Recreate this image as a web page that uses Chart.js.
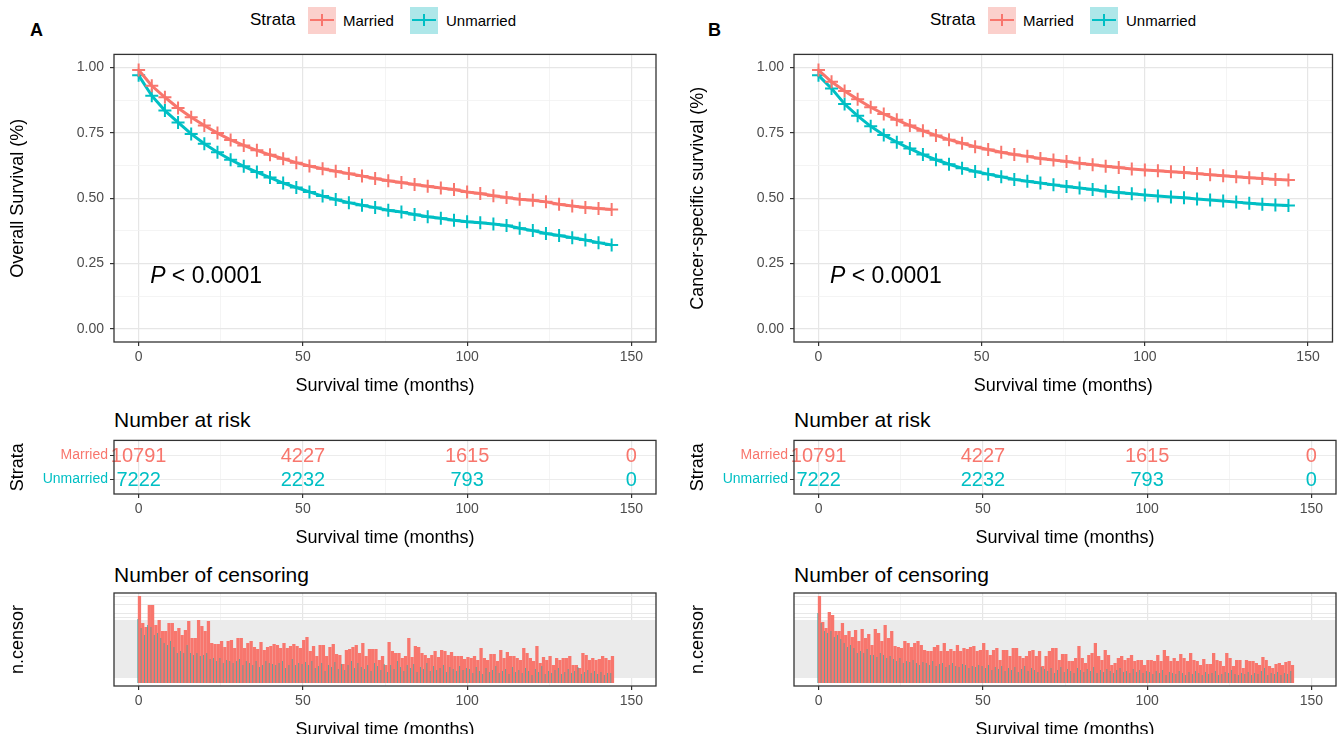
<!DOCTYPE html>
<html>
<head>
<meta charset="utf-8">
<script src="https://cdn.jsdelivr.net/npm/chart.js@4.4.1/dist/chart.umd.min.js"></script>
<style>
  body { margin: 0; width: 1341px; height: 734px; position: relative; overflow: hidden; background: #fff;
         font-family: "Liberation Sans", Arial, sans-serif; }
  canvas { position: absolute; }
  .t { position: absolute; white-space: nowrap; line-height: 1; color: #000; }
  .key { position: absolute; width: 28px; height: 27px; }
  .key i { position: absolute; display: block; }
  .key .h { left: 2px; right: 2px; top: 12px; height: 2px; }
  .key .v { left: 13px; top: 7px; width: 2px; height: 12px; }
</style>
</head>
<body>

<div class="t" style="left:30px;top:21px;font-size:18px;font-weight:bold">A</div>
<div class="t" style="left:250px;top:11px;font-size:17px">Strata</div>
<div class="key" style="left:308px;top:7px;background:#fbd0cc"><i class="h" style="background:#F8766D"></i><i class="v" style="background:#F8766D"></i></div>
<div class="t" style="left:343px;top:13px;font-size:15px">Married</div>
<div class="key" style="left:410px;top:7px;background:#aee7e9"><i class="h" style="background:#00BFC4"></i><i class="v" style="background:#00BFC4"></i></div>
<div class="t" style="left:446px;top:13px;font-size:15px">Unmarried</div>
<div class="t" style="left:114px;top:409px;font-size:21px">Number at risk</div>
<div class="t" style="left:114px;top:564px;font-size:21px">Number of censoring</div>

<div class="t" style="left:708px;top:21px;font-size:18px;font-weight:bold">B</div>
<div class="t" style="left:930px;top:11px;font-size:17px">Strata</div>
<div class="key" style="left:988px;top:7px;background:#fbd0cc"><i class="h" style="background:#F8766D"></i><i class="v" style="background:#F8766D"></i></div>
<div class="t" style="left:1023px;top:13px;font-size:15px">Married</div>
<div class="key" style="left:1090px;top:7px;background:#aee7e9"><i class="h" style="background:#00BFC4"></i><i class="v" style="background:#00BFC4"></i></div>
<div class="t" style="left:1126px;top:13px;font-size:15px">Unmarried</div>
<div class="t" style="left:794px;top:409px;font-size:21px">Number at risk</div>
<div class="t" style="left:794px;top:564px;font-size:21px">Number of censoring</div>

<canvas id="kmA" width="665" height="357" style="left:0;top:40px"></canvas>
<canvas id="riskA" width="665" height="119" style="left:0;top:430px"></canvas>
<canvas id="censA" width="665" height="155" style="left:0;top:586px"></canvas>
<canvas id="kmB" width="661" height="357" style="left:680px;top:40px"></canvas>
<canvas id="riskB" width="661" height="119" style="left:680px;top:430px"></canvas>
<canvas id="censB" width="661" height="155" style="left:680px;top:586px"></canvas>

<script>
// survival estimates read every 4 months
var kmTimes = [0, 4, 8, 12, 16, 20, 24, 28, 32, 36, 40, 44, 48, 52, 56, 60, 64, 68, 72,
  76, 80, 84, 88, 92, 96, 100, 104, 108, 112, 116, 120, 124, 128, 132, 136, 140, 144];
var osMarried = [0.99, 0.93, 0.886, 0.845, 0.81, 0.778, 0.749, 0.723, 0.702, 0.683, 0.666, 0.651,
  0.636, 0.623, 0.613, 0.603, 0.594, 0.585, 0.575, 0.567, 0.56, 0.552, 0.546, 0.539, 0.533,
  0.524, 0.518, 0.509, 0.503, 0.496, 0.492, 0.486, 0.477, 0.47, 0.464, 0.461, 0.457];
var osUnmarried = [0.97, 0.892, 0.835, 0.79, 0.746, 0.708, 0.676, 0.647, 0.622, 0.6, 0.579, 0.558,
  0.541, 0.524, 0.508, 0.495, 0.483, 0.473, 0.464, 0.454, 0.447, 0.438, 0.429, 0.423, 0.416,
  0.41, 0.406, 0.401, 0.396, 0.385, 0.376, 0.365, 0.357, 0.349, 0.34, 0.33, 0.321];
var cssMarried = [0.99, 0.945, 0.91, 0.878, 0.848, 0.822, 0.8, 0.778, 0.758, 0.74, 0.724, 0.71,
  0.697, 0.686, 0.676, 0.667, 0.66, 0.652, 0.646, 0.64, 0.634, 0.628, 0.622, 0.617, 0.612,
  0.608, 0.605, 0.601, 0.598, 0.594, 0.59, 0.586, 0.582, 0.578, 0.575, 0.572, 0.57];
var cssUnmarried = [0.97, 0.92, 0.86, 0.815, 0.775, 0.742, 0.714, 0.69, 0.667, 0.647, 0.63, 0.615,
  0.602, 0.592, 0.582, 0.572, 0.565, 0.558, 0.551, 0.545, 0.539, 0.533, 0.527, 0.522, 0.517,
  0.512, 0.508, 0.505, 0.502, 0.497, 0.493, 0.489, 0.485, 0.481, 0.477, 0.474, 0.472];

// number at risk table
var riskTimes = [0, 50, 100, 150];
var riskMarried = [10791, 4227, 1615, 0];
var riskUnmarried = [7222, 2232, 793, 0];

// number censored per month, months 0..144
var osCensorMarried = [87, 60, 56, 78, 78, 58, 63, 52, 52, 60, 60, 52, 55, 48, 53, 62, 45, 45, 63, 57,
  52, 62, 40, 39, 39, 42, 36, 42, 43, 35, 45, 45, 35, 40, 42, 36, 34, 41, 33, 36,
  37, 39, 38, 35, 40, 35, 37, 39, 37, 35,
  43, 46, 32, 37, 27, 38, 38, 27, 36, 39, 29, 28, 19, 33, 34, 36, 38, 30, 40, 27,
  34, 34, 34, 23, 27, 18, 41, 32, 30, 30, 25, 27, 45, 26, 37, 36, 30, 28, 25, 28,
  32, 26, 33, 32, 28, 31, 27, 27, 27, 24, 26,
  25, 27, 23, 35, 25, 23, 29, 29, 22, 33, 25, 31, 27, 27, 25, 23, 35, 30, 25, 22,
  37, 20, 26, 23, 27, 18, 25, 23, 25, 25, 27, 18, 18, 15, 30, 28, 23, 25, 23, 24,
  27, 25, 23, 27];
var osCensorUnmarried = [64, 55, 48, 58, 56, 48, 50, 45, 40, 38, 42, 36, 30, 32, 30, 38, 30, 28, 30, 27,
  28, 30, 24, 25, 22, 25, 20, 23, 22, 20, 22, 24, 18, 22, 20, 18, 22, 16, 18, 22,
  20, 19, 18, 20, 22, 15, 18, 24, 18, 20,
  19, 21, 18, 22, 15, 17, 20, 12, 18, 16, 21, 14, 19, 13, 18, 22, 15, 20, 16, 14,
  18, 12, 20, 17, 13, 19, 11, 18, 14, 22, 16, 12, 18, 15, 19, 11, 16, 14, 20, 12,
  17, 13, 15, 18, 11, 16, 14, 12, 17, 13, 15,
  14, 10, 16, 12, 9, 15, 11, 13, 17, 10, 12, 14, 9, 16, 11, 13, 10, 15, 12, 8,
  14, 11, 17, 9, 12, 10, 13, 15, 9, 11, 14, 10, 12, 16, 9, 11, 13, 10, 12, 9,
  11, 8, 10, 10];
var cssCensorMarried = [87, 61, 55, 71, 68, 52, 52, 60, 48, 52, 46, 53, 42, 54, 45, 49, 38, 54, 50, 42,
  58, 45, 52, 37, 36, 35, 42, 40, 36, 40, 42, 38, 33, 32, 32, 36, 38, 32, 40, 32,
  34, 32, 38, 32, 35, 34, 36, 37, 32, 33,
  40, 33, 28, 33, 35, 23, 33, 33, 27, 35, 35, 27, 25, 27, 32, 33, 27, 32, 17, 27,
  32, 35, 35, 23, 29, 29, 22, 22, 25, 37, 25, 20, 28, 30, 40, 27, 23, 33, 28, 18,
  20, 25, 27, 23, 25, 28, 22, 23, 23, 18, 23,
  23, 22, 28, 22, 33, 27, 22, 25, 22, 29, 25, 22, 30, 23, 22, 18, 24, 19, 19, 30,
  23, 22, 17, 30, 25, 17, 23, 23, 15, 23, 22, 22, 20, 18, 26, 23, 17, 15, 19, 20,
  18, 21, 22, 18];
var cssCensorUnmarried = [70, 60, 52, 50, 52, 46, 48, 44, 40, 36, 38, 35, 30, 32, 30, 34, 28, 28, 26, 30,
  28, 25, 27, 24, 22, 25, 20, 22, 21, 23, 20, 18, 21, 20, 18, 22, 17, 19, 20, 16,
  18, 20, 17, 16, 19, 18, 15, 17, 16, 18,
  17, 15, 18, 13, 16, 14, 17, 12, 15, 13, 16, 11, 14, 17, 12, 15, 13, 11, 16, 14,
  12, 15, 10, 13, 16, 11, 14, 12, 10, 15, 13, 11, 14, 12, 16, 10, 13, 11, 14, 12,
  10, 13, 15, 11, 12, 10, 14, 11, 13, 10, 12,
  11, 9, 12, 10, 13, 8, 11, 10, 9, 12, 10, 8, 11, 9, 12, 10, 8, 11, 9, 10,
  12, 8, 9, 11, 10, 13, 9, 8, 10, 9, 11, 8, 10, 9, 12, 15, 8, 10, 9, 11,
  8, 10, 9, 12];
var censorMonths = osCensorMarried.map(function (v, i) { return i; });

// axis ticks
var xTickLabels = [0, 50, 100, 150];
var xGrid = [0, 25, 50, 75, 100, 125, 150];
var yGrid = [0, 0.125, 0.25, 0.375, 0.5, 0.625, 0.75, 0.875, 1];
var censorGrid = [66, 70, 79, 86];

var RED = '#F8766D';
var TEAL = '#00BFC4';
Chart.defaults.font.family = '"Liberation Sans", Arial, sans-serif';
Chart.defaults.animation = false;
Chart.defaults.plugins.legend.display = false;
Chart.defaults.plugins.tooltip.enabled = false;

// frame round the panel, plus an optional grey band behind the bars
var panelBox = {
  id: 'panelBox',
  beforeDatasetsDraw: function (chart, args, opts) {
    if (!opts.band) return;
    var a = chart.chartArea, y = chart.scales.y, ctx = chart.ctx;
    var top = y.getPixelForValue(opts.band.to);
    var bot = y.getPixelForValue(opts.band.from);
    ctx.save();
    ctx.fillStyle = opts.band.color;
    ctx.fillRect(a.left, top, a.right - a.left, bot - top);
    ctx.restore();
  },
  afterDraw: function (chart) {
    var a = chart.chartArea, ctx = chart.ctx;
    ctx.save();
    ctx.strokeStyle = '#333';
    ctx.lineWidth = 1.3;
    ctx.strokeRect(a.left, a.top, a.right - a.left, a.bottom - a.top);
    ctx.restore();
  }
};
Chart.register(panelBox);

function isMajorX(v) { return xTickLabels.indexOf(v) >= 0; }
function isMajorY(v) { return Math.abs(v * 4 - Math.round(v * 4)) < 1e-9; }

function xAxis(titlePad) {
  return {
    type: 'linear', min: -7.5, max: 157.5, bounds: 'data', offset: false,
    afterBuildTicks: function (s) { s.ticks = xGrid.map(function (v) { return { value: v }; }); },
    afterFit: function (s) { s.height = 55; },
    border: { display: false },
    grid: {
      offset: false, tickLength: 4,
      color: function (c) { return isMajorX(c.tick.value) ? '#e6e6e6' : '#f1f1f1'; },
      lineWidth: function (c) { return isMajorX(c.tick.value) ? 1.2 : 0.8; },
      tickColor: function (c) { return isMajorX(c.tick.value) ? '#333' : 'rgba(0,0,0,0)'; }
    },
    ticks: {
      autoSkip: false, maxRotation: 0, padding: 3, color: '#4d4d4d', font: { size: 14 },
      callback: function (v) { return isMajorX(v) ? String(v) : ''; }
    },
    title: { display: true, text: 'Survival time (months)', color: '#000', font: { size: 18 },
      padding: { top: titlePad, bottom: 0 } }
  };
}

function yTitle(text) {
  return { display: true, text: text, color: '#000', font: { size: 18 }, padding: { top: 7, bottom: 0 } };
}

function makeKM(id, married, unmarried, title, padRight) {
  var pPlugin = {
    id: 'pvalue',
    afterDatasetsDraw: function (chart) {
      var ctx = chart.ctx;
      var x = chart.scales.x.getPixelForValue(3.5);
      var y = chart.scales.y.getPixelForValue(0.2);
      ctx.save();
      ctx.fillStyle = '#000';
      ctx.textBaseline = 'middle';
      ctx.textAlign = 'left';
      ctx.font = 'italic 23px "Liberation Sans", Arial, sans-serif';
      ctx.fillText('P', x, y);
      var w = ctx.measureText('P').width;
      ctx.font = '23px "Liberation Sans", Arial, sans-serif';
      ctx.fillText(' < 0.0001', x + w, y);
      ctx.restore();
    }
  };
  function series(label, vals, color, order) {
    return {
      label: label,
      data: kmTimes.map(function (t, i) { return { x: t, y: vals[i] }; }),
      borderColor: color, backgroundColor: color, borderWidth: 3,
      pointStyle: 'cross', pointRadius: 6.5, pointBorderWidth: 2,
      pointBorderColor: color, tension: 0, order: order
    };
  }
  return new Chart(document.getElementById(id), {
    type: 'line',
    data: { datasets: [series('Married', married, RED, 0), series('Unmarried', unmarried, TEAL, 1)] },
    options: {
      responsive: false,
      layout: { padding: { top: 13, right: padRight, left: 0, bottom: 0 } },
      plugins: { panelBox: {} },
      scales: {
        x: xAxis(6),
        y: {
          type: 'linear', min: -0.05, max: 1.05, bounds: 'data',
          afterBuildTicks: function (s) { s.ticks = yGrid.map(function (v) { return { value: v }; }); },
          afterFit: function (s) { s.width = 114; },
          border: { display: false },
          grid: {
            tickLength: 4,
            color: function (c) { return isMajorY(c.tick.value) ? '#e6e6e6' : '#f1f1f1'; },
            lineWidth: function (c) { return isMajorY(c.tick.value) ? 1.2 : 0.8; },
            tickColor: function (c) { return isMajorY(c.tick.value) ? '#333' : 'rgba(0,0,0,0)'; }
          },
          ticks: {
            padding: 6, color: '#4d4d4d', font: { size: 14 },
            callback: function (v) { return isMajorY(v) ? v.toFixed(2) : ''; }
          },
          title: yTitle(title)
        }
      }
    },
    plugins: [pPlugin]
  });
}

function makeRisk(id, padRight) {
  var numbers = {
    id: 'riskNumbers',
    afterDatasetsDraw: function (chart) {
      var ctx = chart.ctx;
      ctx.save();
      ctx.font = '20px "Liberation Sans", Arial, sans-serif';
      ctx.textAlign = 'center';
      ctx.textBaseline = 'middle';
      chart.data.datasets.forEach(function (ds, i) {
        ctx.fillStyle = ds.borderColor;
        chart.getDatasetMeta(i).data.forEach(function (pt, j) {
          ctx.fillText(String(ds.counts[j]), pt.x, pt.y + 1);
        });
      });
      ctx.restore();
    }
  };
  function row(label, counts, color, level) {
    return {
      label: label, counts: counts, borderColor: color, backgroundColor: color, pointRadius: 0,
      data: riskTimes.map(function (t) { return { x: t, y: level }; })
    };
  }
  return new Chart(document.getElementById(id), {
    type: 'scatter',
    data: { datasets: [row('Married', riskMarried, RED, 2), row('Unmarried', riskUnmarried, TEAL, 1)] },
    options: {
      responsive: false,
      layout: { padding: { top: 7, right: padRight, left: 0, bottom: 0 } },
      plugins: { panelBox: {} },
      scales: {
        x: xAxis(4),
        y: {
          type: 'linear', min: 0.4, max: 2.6, bounds: 'data',
          afterBuildTicks: function (s) { s.ticks = [{ value: 1 }, { value: 2 }]; },
          afterFit: function (s) { s.width = 114; },
          border: { display: false },
          grid: { tickLength: 4, color: '#ececec', tickColor: '#333' },
          ticks: {
            padding: 2, font: { size: 14 },
            color: function (c) { return c.tick.value === 2 ? RED : TEAL; },
            callback: function (v) { return v === 2 ? 'Married' : 'Unmarried'; }
          },
          title: yTitle('Strata')
        }
      }
    },
    plugins: [numbers]
  });
}

function makeCensor(id, married, unmarried, padRight) {
  function bars(label, vals, color, pct, order) {
    return {
      label: label,
      data: censorMonths.map(function (t, i) { return { x: t, y: vals[i] }; }),
      backgroundColor: color, borderWidth: 0, order: order,
      categoryPercentage: 1, barPercentage: pct
    };
  }
  return new Chart(document.getElementById(id), {
    type: 'bar',
    data: { datasets: [bars('Married', married, RED, 2.0, 1), bars('Unmarried', unmarried, '#2aa19e', 0.4, 0)] },
    options: {
      responsive: false,
      layout: { padding: { top: 7, right: padRight, left: 0, bottom: 0 } },
      plugins: { panelBox: { band: { from: 5, to: 63, color: '#ebebeb' } } },
      scales: {
        x: xAxis(6),
        y: {
          type: 'linear', min: -3, max: 90, bounds: 'data',
          afterBuildTicks: function (s) { s.ticks = censorGrid.map(function (v) { return { value: v }; }); },
          afterFit: function (s) { s.width = 114; },
          border: { display: false },
          grid: { drawTicks: false, color: '#e8e8e8' },
          ticks: { display: false },
          title: yTitle('n.censor')
        }
      }
    }
  });
}

makeKM('kmA', osMarried, osUnmarried, 'Overall Survival (%)', 9);
makeRisk('riskA', 9);
makeCensor('censA', osCensorMarried, osCensorUnmarried, 9);
makeKM('kmB', cssMarried, cssUnmarried, 'Cancer-specific survival (%)', 5);
makeRisk('riskB', 5);
makeCensor('censB', cssCensorMarried, cssCensorUnmarried, 5);
</script>
</body>
</html>
